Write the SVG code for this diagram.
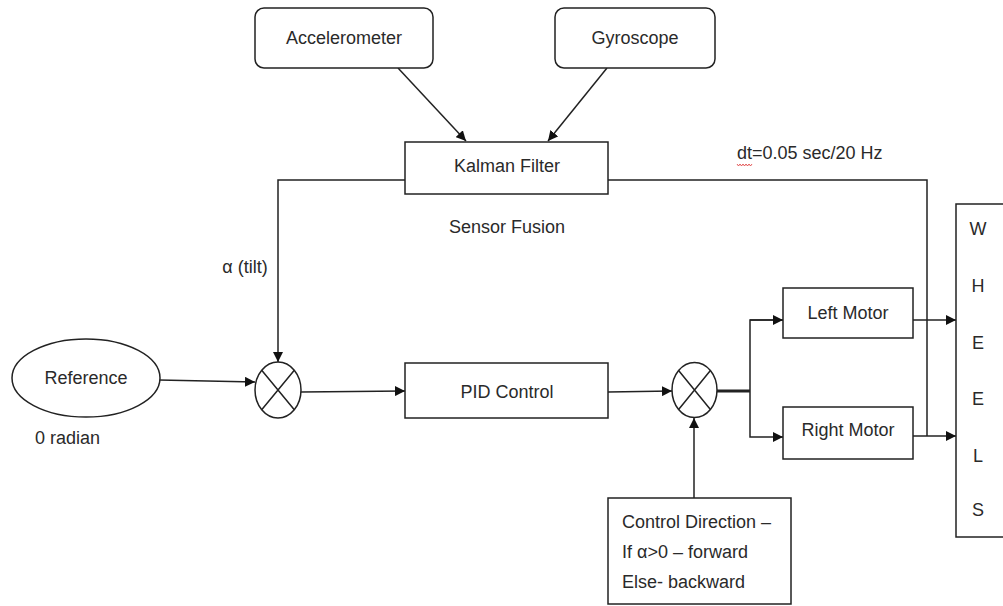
<svg xmlns="http://www.w3.org/2000/svg" width="1003" height="606" viewBox="0 0 1003 606">
<style>
.box{fill:#fff;stroke:#222;stroke-width:1.5}
.ln{fill:none;stroke:#222;stroke-width:1.5}
.t{font-family:"Liberation Sans",Arial,sans-serif;font-size:18px;fill:#2a2a2a}
.c{text-anchor:middle}
</style>
<defs>
<marker id="ah" viewBox="0 0 10 10" refX="10" refY="5" markerWidth="10" markerHeight="10" markerUnits="userSpaceOnUse" orient="auto">
<path d="M0,0 L10,5 L0,10 z" fill="#111"/>
</marker>
</defs>
<rect width="1003" height="606" fill="#fff"/>
<g id="connectors">
<line class="ln" x1="398" y1="68" x2="466" y2="141" marker-end="url(#ah)"/>
<line class="ln" x1="607" y1="68" x2="548" y2="141" marker-end="url(#ah)"/>
<polyline class="ln" points="405,180 278,180 278,362" marker-end="url(#ah)"/>
<line class="ln" x1="159" y1="380" x2="255" y2="382" marker-end="url(#ah)"/>
<line class="ln" x1="301" y1="392" x2="405" y2="391" marker-end="url(#ah)"/>
<line class="ln" x1="608" y1="392" x2="672" y2="391" marker-end="url(#ah)"/>
<line x1="717" y1="391" x2="750" y2="391" stroke="#222" stroke-width="3"/>
<polyline class="ln" points="783,320 750,320 750,437 783,437" marker-end="url(#ah)"/>
<line class="ln" x1="750" y1="320" x2="783" y2="320" marker-end="url(#ah)"/>
<line class="ln" x1="913" y1="320" x2="956" y2="320" marker-end="url(#ah)"/>
<line class="ln" x1="913" y1="436" x2="956" y2="436" marker-end="url(#ah)"/>
<polyline class="ln" points="608,180 927,180 927,436"/>
<line class="ln" x1="694" y1="498" x2="694" y2="418" marker-end="url(#ah)"/>
</g>
<g id="accelerometer">
<rect class="box" x="255" y="8" width="178" height="60" rx="9"/>
<text class="t c" x="344" y="44">Accelerometer</text>
</g>
<g id="gyroscope">
<rect class="box" x="555" y="8" width="160" height="60" rx="9"/>
<text class="t c" x="635" y="44">Gyroscope</text>
</g>
<g id="kalman">
<rect class="box" x="405" y="142" width="203" height="52"/>
<text class="t c" x="507" y="172">Kalman Filter</text>
</g>
<g id="sensor-fusion-label">
<text class="t c" x="507" y="233">Sensor Fusion</text>
</g>
<g id="dt-label">
<text class="t" x="737" y="159">dt=0.05 sec/20 Hz</text>
<path d="M737,164 l1.5,2 l1.5,-2 l1.5,2 l1.5,-2 l1.5,2 l1.5,-2 l1.5,2 l1.5,-2 l1.5,2 l1.5,-2" fill="none" stroke="#d33" stroke-width="0.8"/>
</g>
<g id="tilt-label">
<text class="t c" x="245" y="273">α (tilt)</text>
</g>
<g id="reference">
<ellipse class="box" cx="86" cy="378" rx="74" ry="39"/>
<text class="t c" x="86" y="384">Reference</text>
</g>
<g id="radian-label">
<text class="t" x="35" y="444">0 radian</text>
</g>
<g id="sum1">
<ellipse class="box" cx="278" cy="390" rx="23" ry="28"/>
<path class="ln" d="M261.7,370.2 L294.3,409.8 M294.3,370.2 L261.7,409.8"/>
</g>
<g id="pid">
<rect class="box" x="405" y="363" width="203" height="55"/>
<text class="t c" x="507" y="398">PID Control</text>
</g>
<g id="sum2">
<ellipse class="box" cx="694.5" cy="390" rx="22.5" ry="27.5"/>
<path class="ln" d="M678.6,370.6 L710.4,409.4 M710.4,370.6 L678.6,409.4"/>
</g>
<g id="left-motor">
<rect class="box" x="783" y="288" width="130" height="50"/>
<text class="t c" x="848" y="319">Left Motor</text>
</g>
<g id="right-motor">
<rect class="box" x="783" y="407" width="130" height="52"/>
<text class="t c" x="848" y="436">Right Motor</text>
</g>
<g id="control-direction">
<rect class="box" x="608" y="498" width="183" height="106"/>
<text class="t" x="622" y="528">Control Direction –</text>
<text class="t" x="622" y="558">If α&gt;0 – forward</text>
<text class="t" x="622" y="588">Else- backward</text>
</g>
<g id="wheels">
<rect class="box" x="956" y="204" width="60" height="333"/>
<text class="t c" x="978" y="235">W</text>
<text class="t c" x="978" y="292">H</text>
<text class="t c" x="978" y="349">E</text>
<text class="t c" x="978" y="405">E</text>
<text class="t c" x="978" y="462">L</text>
<text class="t c" x="978" y="516">S</text>
</g>
</svg>
